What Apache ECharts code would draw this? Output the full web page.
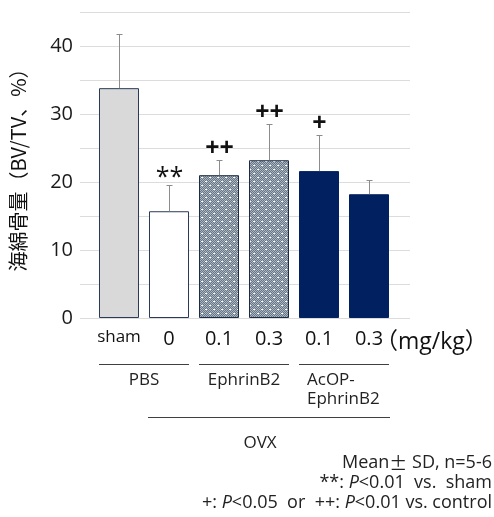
<!DOCTYPE html>
<html><head><meta charset="utf-8">
<script src="https://cdn.jsdelivr.net/npm/echarts@6/dist/echarts.min.js"></script>
<style>html,body{margin:0;padding:0;background:#fff}#c{width:494px;height:517px}</style>
</head><body><div id="c"></div>
<script>
const categories = ['sham', '0', '0.1', '0.3', '0.1', '0.3'];
const means = [33.8, 15.7, 21.0, 23.2, 21.6, 18.2];
const sds = [8.0, 3.9, 2.3, 5.3, 5.3, 2.1];
const marks = ['', '**', '++', '++', '+', ''];
const groupNames = ['PBS', 'EphrinB2', 'AcOP-\nEphrinB2'];
const groupStart = [0, 2, 4];
const groupEnd = [1, 3, 5];
const yTickStep = 10;
const FONT = '"Open Sans", "Noto Sans CJK JP", sans-serif';
const CJK = '"Noto Sans CJK JP", sans-serif';

function makePattern() {
  const c = document.createElement('canvas');
  c.width = 8; c.height = 8;
  const g = c.getContext('2d');
  for (let y = 0; y < 8; y++) for (let x = 0; x < 8; x++) {
    g.fillStyle = ((x + y) % 2) ? '#667686' : '#abb6c1';
    g.fillRect(x, y, 1, 1);
  }
  g.fillStyle = '#ffffff';
  g.fillRect(1, 1, 2, 1);
  g.fillRect(5, 5, 2, 1);
  return c;
}
const pattern = { image: makePattern(), repeat: 'repeat' };
const barStyles = [
  { color: '#d9d9d9', borderColor: '#2a3a58', borderWidth: 1 },
  { color: '#ffffff', borderColor: '#2a3a58', borderWidth: 1 },
  { color: pattern, borderColor: '#1c2c44', borderWidth: 1 },
  { color: pattern, borderColor: '#1c2c44', borderWidth: 1 },
  { color: '#002060', borderColor: '#002060', borderWidth: 1 },
  { color: '#002060', borderColor: '#002060', borderWidth: 1 }
];

const chart = echarts.init(document.getElementById('c'), null, { renderer: 'canvas' });
chart.setOption({
  animation: false,
  backgroundColor: '#fff',
  textStyle: { fontFamily: FONT },
  grid: [
    { left: 78, right: 84, top: 12, bottom: 199 },
    { left: 94, right: 100, top: 12, bottom: 199 }
  ],
  xAxis: [
    { gridIndex: 0, type: 'value', min: 0, max: 1, show: false },
    {
      gridIndex: 1, type: 'category', data: categories,
      axisLine: { show: false }, axisTick: { show: false },
      axisLabel: {
        interval: 0, margin: 11, fontSize: 20, color: '#111', fontFamily: FONT,
        formatter: (v, i) => i === 0 ? '{s|' + v + '}' : v,
        rich: { s: { fontSize: 17, color: '#111', fontFamily: FONT } }
      }
    }
  ],
  yAxis: [
    {
      gridIndex: 0, type: 'value', min: 0, max: 45, interval: 5,
      axisLine: { show: false }, axisTick: { show: false },
      splitLine: { lineStyle: { color: '#dcdcdc', width: 1 } },
      axisLabel: {
        margin: 7, fontSize: 20, color: '#1a1a1a', fontFamily: FONT,
        formatter: v => (v % yTickStep === 0 ? String(v) : '')
      },
      name: '海綿骨量（BV/TV、%）', nameLocation: 'middle', nameGap: 52,
      nameTextStyle: { fontSize: 20, color: '#111', fontFamily: CJK }
    },
    { gridIndex: 1, type: 'value', min: 0, max: 45, interval: 5, show: false }
  ],
  series: [
    {
      type: 'bar', xAxisIndex: 1, yAxisIndex: 1, barWidth: 40,
      data: means.map((v, i) => ({ value: v, itemStyle: barStyles[i] }))
    },
    {
      type: 'custom', xAxisIndex: 1, yAxisIndex: 1, z: 5,
      data: means.map((m, i) => [i, m, sds[i]]),
      renderItem: function (params, api) {
        const i = api.value(0), m = api.value(1), s = api.value(2);
        const p0 = api.coord([i, m]);
        const p1 = api.coord([i, m + s]);
        const x = Math.round(p0[0]) + 0.5;
        const yt = Math.round(p1[1]) + 0.5;
        const mk = marks[params.dataIndex];
        const isStar = mk.indexOf('*') >= 0;
        return {
          type: 'group',
          children: [
            { type: 'line', shape: { x1: x, y1: p0[1], x2: x, y2: yt }, style: { stroke: '#8c8c8c', lineWidth: 1 } },
            { type: 'line', shape: { x1: x - 3, y1: yt, x2: x + 3, y2: yt }, style: { stroke: '#8c8c8c', lineWidth: 1 } },
            {
              type: 'text',
              style: {
                text: mk,
                x: x, y: isStar ? yt - 8 : yt - 12,
                align: 'center', verticalAlign: 'middle',
                fontSize: isStar ? 25 : 25, fontWeight: isStar ? 'normal' : 'bold',
                fill: '#111', fontFamily: FONT
              }
            }
          ]
        };
      }
    }
  ]
});

const cx = i => chart.convertToPixel({ xAxisIndex: 1 }, i);
const yBase = chart.convertToPixel({ yAxisIndex: 1 }, 0);
const lineStyle = { stroke: '#404040', lineWidth: 1 };
const graphics = [];
groupNames.forEach((name, g) => {
  const x1 = cx(groupStart[g]) - 20, x2 = cx(groupEnd[g]) + 20;
  const ly = Math.round(yBase + 46) + 0.5;
  graphics.push({ type: 'line', shape: { x1: x1, y1: ly, x2: x2, y2: ly }, style: lineStyle });
  const multi = name.indexOf('\n') >= 0;
  graphics.push({
    type: 'text',
    x: multi ? cx(groupStart[g]) - 12 : (cx(groupStart[g]) + cx(groupEnd[g])) / 2,
    y: yBase + 53,
    style: {
      text: name, align: multi ? 'left' : 'center', verticalAlign: 'top',
      fontSize: 17, lineHeight: 19, fill: '#222', fontFamily: FONT
    }
  });
});
const ovxY = Math.round(yBase + 99) + 0.5;
const ox1 = cx(1) - 21, ox2 = cx(5) + 21;
graphics.push({ type: 'line', shape: { x1: ox1, y1: ovxY, x2: ox2, y2: ovxY }, style: lineStyle });
graphics.push({
  type: 'text', x: (ox1 + ox2) / 2 - 9, y: yBase + 125,
  style: { text: 'OVX', align: 'center', verticalAlign: 'middle', fontSize: 17, fill: '#222', fontFamily: FONT }
});
graphics.push({
  type: 'text', x: cx(5) + 6, y: yBase + 24,
  style: { text: '（mg/kg）', align: 'left', verticalAlign: 'middle', fontSize: 23, fill: '#111', fontFamily: FONT }
});
const notes = [
  'Mean{c|±} SD, n=5-6',
  '**: {i|P}<0.01  vs.  sham',
  '+: {i|P}<0.05  or  ++: {i|P}<0.01 vs. control'
];
notes.forEach((t, k) => {
  graphics.push({
    type: 'text', x: 492, y: yBase + 145 + k * 20,
    style: {
      text: t, align: 'right', verticalAlign: 'middle',
      fontSize: 18, fill: '#222', fontFamily: FONT,
      rich: {
        i: { fontStyle: 'italic', fontSize: 18, fill: '#222', fontFamily: FONT },
        c: { fontSize: 18, fill: '#222', fontFamily: CJK }
      }
    }
  });
});
chart.setOption({ graphic: graphics });
</script></body></html>
